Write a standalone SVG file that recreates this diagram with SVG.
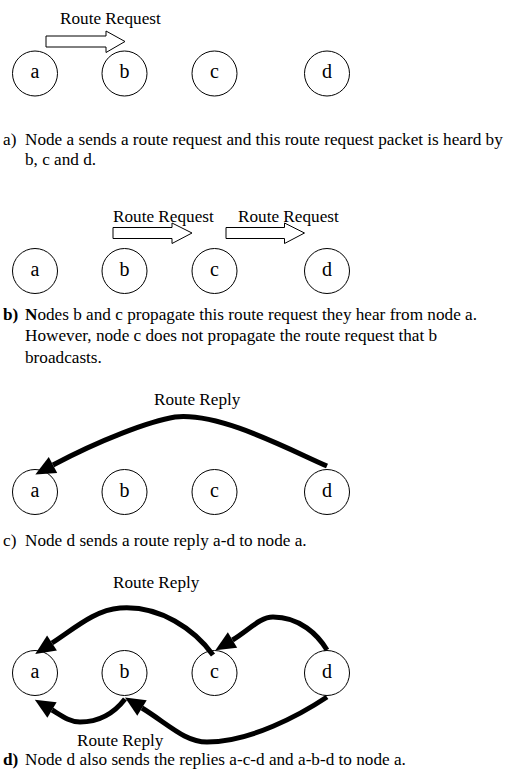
<svg xmlns="http://www.w3.org/2000/svg" width="506" height="770" viewBox="0 0 506 770">
<style>
text{font-family:"Liberation Serif","Times New Roman",serif;font-size:17.2px;fill:#000}
.lbl{text-anchor:middle;font-size:20px}
.b{font-weight:bold}
circle{fill:#fff;stroke:#000;stroke-width:1}
.blk{fill:#fff;stroke:#000;stroke-width:1}
.arc{fill:none;stroke:#000;stroke-width:5;marker-end:url(#head)}
</style>
<defs>
<marker id="head" markerUnits="userSpaceOnUse" markerWidth="24" markerHeight="24" refX="0" refY="10" orient="auto" overflow="visible">
<path d="M0,1 L20,10 L0,19 z" fill="#000"/>
</marker>
</defs>
<rect width="506" height="770" fill="#fff"/>

<!-- panel a -->
<g id="panel-a">
<g id="a1"><circle cx="35" cy="73.5" r="22.5"/><text class="lbl" x="35" y="78">a</text></g>
<g id="b1"><circle cx="124.5" cy="73.5" r="22.5"/><text class="lbl" x="124.5" y="78">b</text></g>
<g id="c1"><circle cx="214.5" cy="73.5" r="22.5"/><text class="lbl" x="214.5" y="78">c</text></g>
<g id="d1"><circle cx="327" cy="73.5" r="22.5"/><text class="lbl" x="327" y="78">d</text></g>
<g id="req-a"><polygon class="blk" points="46,36 106,36 106,31 125,41.5 106,52.5 106,47 46,47"/><text x="60" y="24">Route Request</text></g>
<g id="cap-a"><text x="3" y="145">a)</text><text x="25" y="145">Node a sends a route request and this route request packet is heard by</text><text x="25" y="165">b, c and d.</text></g>
</g>

<!-- panel b -->
<g id="panel-b">
<g id="a2"><circle cx="35" cy="271" r="22.5"/><text class="lbl" x="35" y="275.5">a</text></g>
<g id="b2"><circle cx="124.5" cy="271" r="22.5"/><text class="lbl" x="124.5" y="275.5">b</text></g>
<g id="c2"><circle cx="214.5" cy="271" r="22.5"/><text class="lbl" x="214.5" y="275.5">c</text></g>
<g id="d2"><circle cx="327" cy="271" r="22.5"/><text class="lbl" x="327" y="275.5">d</text></g>
<g id="req-b1"><polygon class="blk" points="113,227.5 172,227.5 172,223 192,233 172,243.5 172,238.5 113,238.5"/><text x="113" y="222">Route Request</text></g>
<g id="req-b2"><polygon class="blk" points="226,227.5 284.5,227.5 284.5,223 304.5,233 284.5,243.5 284.5,238.5 226,238.5"/><text x="238" y="222">Route Request</text></g>
<g id="cap-b"><text x="3" y="320" class="b">b)</text><text x="25" y="320"><tspan class="b">N</tspan>odes b and c propagate this route request they hear from node a.</text><text x="25" y="341">However, node c does not propagate the route request that b</text><text x="25" y="363">broadcasts.</text></g>
</g>

<!-- panel c -->
<g id="panel-c">
<g id="a3"><circle cx="35" cy="492" r="22.5"/><text class="lbl" x="35" y="496.5">a</text></g>
<g id="b3"><circle cx="124.5" cy="492" r="22.5"/><text class="lbl" x="124.5" y="496.5">b</text></g>
<g id="c3"><circle cx="214.5" cy="492" r="22.5"/><text class="lbl" x="214.5" y="496.5">c</text></g>
<g id="d3"><circle cx="327" cy="492" r="22.5"/><text class="lbl" x="327" y="496.5">d</text></g>
<text x="154" y="405">Route Reply</text>
<g id="cap-c"><text x="3" y="546">c)</text><text x="25" y="546">Node d sends a route reply a-d to node a.</text></g>
</g>

<!-- panel d -->
<g id="panel-d">
<g id="a4"><circle cx="35" cy="673" r="22.5"/><text class="lbl" x="35" y="677.5">a</text></g>
<g id="b4"><circle cx="124.5" cy="673" r="22.5"/><text class="lbl" x="124.5" y="677.5">b</text></g>
<g id="c4"><circle cx="214.5" cy="673" r="22.5"/><text class="lbl" x="214.5" y="677.5">c</text></g>
<g id="d4"><circle cx="327" cy="673" r="22.5"/><text class="lbl" x="327" y="677.5">d</text></g>
<text x="113" y="588">Route Reply</text>
<text x="77" y="746">Route Reply</text>
<g id="cap-d"><text x="3" y="765" class="b">d)</text><text x="25" y="765">Node d also sends the replies a-c-d and a-b-d to node a.</text></g>
</g>

<!-- connectors -->
<g id="connectors">
<path class="arc" d="M327,466 C290,450 220,412 175,417 C150,421 100,440 53,465"/>
<path class="arc" d="M213,655 C195,630 160,605 120,608 C95,610 75,628 52,643"/>
<path class="arc" d="M327,650 C318,635 300,617 273,617 C260,617 249,630 232.5,640"/>
<path class="arc" d="M125,699 C115,712 100,722 80,722 C70,722 62,716 52,710"/>
<path class="arc" d="M327,697 C300,715 250,742 207,742 C185,742 168,724 142,708"/>
</g>
</svg>
